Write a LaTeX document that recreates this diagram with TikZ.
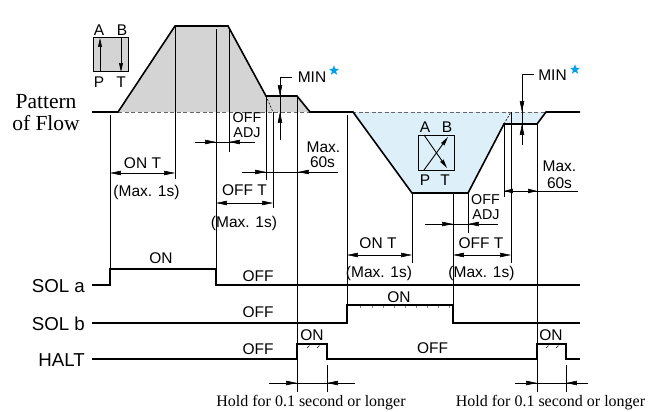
\documentclass[tikz,border=0pt]{standalone}
\usepackage{fontspec}
\setmainfont{Liberation Serif}
\setsansfont{Liberation Sans}
\usetikzlibrary{arrows.meta,shapes.geometric}
\definecolor{grayfill}{RGB}{212,212,212}
\definecolor{bluefill}{RGB}{221,240,250}
\definecolor{starblue}{RGB}{0,160,233}
\begin{document}
\begin{tikzpicture}[x=1pt,y=-1pt,
  outline/.style={line width=1.6pt, line join=miter},
  sig/.style={line width=1.4pt, line join=miter},
  thinl/.style={line width=0.6pt},
  dashbase/.style={line width=0.6pt, black!60, dash pattern=on 4pt off 2.5pt},
  tipr/.style={-{Stealth[length=11pt,width=4.5pt,inset=0.5pt]}},
  dbl/.style={{Stealth[length=11pt,width=4.5pt,inset=0.5pt]}-{Stealth[length=11pt,width=4.5pt,inset=0.5pt]}},
  vtip/.style={-{Stealth[length=9pt,width=4pt,inset=0.5pt]}},
  lab/.style={inner sep=0pt, font=\sffamily\fontsize{15.5}{15}\selectfont, text height=11.1pt, text depth=0pt},
  adj/.style={inner sep=0pt, font=\sffamily\fontsize{14.3}{14}\selectfont, text height=10.2pt, text depth=0pt},
  vlab/.style={inner sep=0pt, font=\sffamily\fontsize{15.5}{15}\selectfont, text height=11.1pt, text depth=0pt},
  siglab/.style={inner sep=0pt, font=\sffamily\fontsize{18.7}{19}\selectfont, text height=13.4pt, text depth=0pt, anchor=east},
  serif/.style={inner sep=0pt, anchor=base, font=\rmfamily\fontsize{21.5}{22}\selectfont},
  hold/.style={inner sep=0pt, anchor=base, font=\rmfamily\fontsize{16}{16}\selectfont},
  starmark/.style={star, star points=5, star point ratio=2.4, fill=starblue, draw=none, minimum size=10.5pt, inner sep=0pt}
]
\useasboundingbox (0,0) rectangle (662,412);

% fills
\fill[grayfill] (118,112) -- (175,26) -- (228,26) -- (266,96) -- (297,96) -- (310,112) -- cycle;
\fill[bluefill] (353,112) -- (412,193) -- (468,193) -- (504,124) -- (537,124) -- (546,112) -- cycle;

% dashed baseline and extensions
\draw[dashbase] (118,112) -- (546,112);
\draw[thinl, dash pattern=on 2pt off 1.5pt] (266,96) -- (273,112);
\draw[thinl, dash pattern=on 2pt off 1.5pt] (504,124) -- (511,112);

% thin vertical lines
\draw[thinl] (110,115) -- (110,269);
\draw[thinl] (175,26) -- (175,179);
\draw[thinl] (216,29) -- (216,269);
\draw[thinl] (229,29) -- (229,152);
\draw[thinl] (266,96) -- (266,180);
\draw[thinl] (273,112) -- (273,208);
\draw[thinl] (297,96) -- (297,392);
\draw[thinl] (347,115) -- (347,305);
\draw[thinl] (412,193) -- (412,263);
\draw[thinl] (453,193) -- (453,305);
\draw[thinl] (468,193) -- (468,233);
\draw[thinl] (504,124) -- (504,197);
\draw[thinl] (511,112) -- (511,263);
\draw[thinl] (537,124) -- (537,392);
\draw[thinl] (327,365) -- (327,392);
\draw[thinl] (566,365) -- (566,392);

% flow outline
\draw[outline] (92,112) -- (118,112) -- (175,26) -- (228,26) -- (266,96) -- (297,96) -- (310,112)
  -- (353,112) -- (412,193) -- (468,193) -- (504,124) -- (537,124) -- (546,112) -- (580,112);

% valve 1
\draw[line width=1pt, fill=grayfill] (93,38) rectangle (128,72);
\draw[line width=0.9pt, vtip] (100,72) -- (100,38);
\draw[line width=0.9pt, vtip] (121,38) -- (121,72);
\node[vlab] (va) at (99,30) {A};
\node[vlab] (vb) at (122,30) {B};
\node[vlab] (vp) at (99,82) {P};
\node[vlab] (vt) at (121,82) {T};

% valve 2
\draw[line width=1pt, fill=bluefill] (418,135) rectangle (454,170);
\draw[line width=0.9pt, vtip] (424,170) -- (448,137);
\draw[line width=0.9pt, vtip] (424,135) -- (447,168);
\node[vlab] (va2) at (425,127) {A};
\node[vlab] (vb2) at (447,127) {B};
\node[vlab] (vp2) at (425,180) {P};
\node[vlab] (vt2) at (445,180) {T};

% Pattern of Flow
\node[serif] (pat) at (46,108.5) {Pattern};
\node[serif] (flow) at (46,130) {of Flow};

% ON T 1
\draw[thinl, dbl] (110,173) -- (175,173);
\node[lab] (ont1) at (142.5,163) {ON T};
\node[lab] (max1) at (146.5,191) {(Max. 1s)};

% OFF ADJ 1
\draw[thinl] (195,142) -- (255,142);
\draw[thinl, tipr] (195,142) -- (216,142);
\draw[thinl, tipr] (255,142) -- (229,142);
\node[adj] (off1) at (247,117) {OFF};
\node[adj] (adj1) at (247,132) {ADJ};

% OFF T 1
\draw[thinl, dbl] (216,203) -- (273,203);
\node[lab] (offt1) at (244.5,190) {OFF T};
\node[lab] (max2) at (244,222) {(Max. 1s)};

% MIN 1
\draw[thinl] (292,77) -- (280,77) -- (280,140);
\draw[thinl, tipr] (280,77) -- (280,96);
\draw[thinl, tipr] (280,140) -- (280,112);
\node[lab] (min1) at (312,77) {MIN};
\node[starmark] (star1) at (334,70.5) {};

% Max 60s 1
\draw[thinl] (242,172) -- (338,172);
\draw[thinl, tipr] (242,172) -- (266,172);
\draw[thinl, tipr] (338,172) -- (298,172);
\node[lab] (mx1) at (323.5,147) {Max.};
\node[lab] (s1) at (322.5,162) {60s};

% ON T 2
\draw[thinl, dbl] (347,255) -- (412,255);
\node[lab] (ont2) at (378,243) {ON T};
\node[lab] (max3) at (379,272) {(Max. 1s)};

% OFF ADJ 2
\draw[thinl] (425,224) -- (498,224);
\draw[thinl, tipr] (425,224) -- (453,224);
\draw[thinl, tipr] (498,224) -- (468,224);
\node[adj] (off2) at (485.5,199) {OFF};
\node[adj] (adj2) at (486,214) {ADJ};

% OFF T 2
\draw[thinl, dbl] (453,255) -- (511,255);
\node[lab] (offt2) at (481,243) {OFF T};
\node[lab] (max4) at (481.5,272) {(Max. 1s)};

% MIN 2
\draw[thinl] (534,74) -- (522,74) -- (522,145);
\draw[thinl, tipr] (522,74) -- (522,112);
\draw[thinl, tipr] (522,145) -- (522,124);
\node[lab] (min2) at (552.5,75) {MIN};
\node[starmark] (star2) at (575,69.5) {};

% Max 60s 2
\draw[thinl] (504,191) -- (578,191);
\draw[thinl, {Stealth[length=9pt,width=4.5pt,inset=0.5pt]}-{Stealth[length=9pt,width=4.5pt,inset=0.5pt]}] (504,191) -- (537,191);
\node[lab] (mx2) at (559.5,166) {Max.};
\node[lab] (s2) at (559.5,183) {60s};

% signal lines
\draw[sig] (92,285) -- (110,285) -- (110,269) -- (216,269) -- (216,285) -- (580,285);
\draw[sig] (92,323) -- (347,323) -- (347,305) -- (453,305) -- (453,323) -- (580,323);
\draw[sig] (92,359) -- (297,359) -- (297,344) -- (327,344) -- (327,359) -- (537,359) -- (537,344) -- (566,344) -- (566,359) -- (580,359);

% small marks in pulses
\foreach \x in {360,372,383,394,405,416,427,438,449} \draw[line width=0.4pt, gray] (\x,306) -- (\x,308);
\foreach \x in {307,317} \draw[line width=0.5pt] (\x,348) -- (\x+2.5,345.5);
\foreach \x in {546,556} \draw[line width=0.5pt] (\x,348) -- (\x+2.5,345.5);

\node[siglab] (sola) at (85,286) {SOL a};
\node[siglab] (solb) at (85,323.5) {SOL b};
\node[siglab] (halt) at (85,360) {HALT};

\node[lab] (on1) at (161,258) {ON};
\node[lab] (offa) at (258,276) {OFF};
\node[lab] (on2) at (399,297) {ON};
\node[lab] (offb) at (258,312) {OFF};
\node[lab] (on3) at (312,335) {ON};
\node[lab] (offh1) at (258,349) {OFF};
\node[lab] (on4) at (551,335) {ON};
\node[lab] (offh2) at (432.5,348) {OFF};

% hold arrows
\draw[thinl] (269,383) -- (355,383);
\draw[thinl, tipr] (269,383) -- (297,383);
\draw[thinl, tipr] (355,383) -- (327,383);
\draw[thinl] (515,383) -- (588,383);
\draw[thinl, tipr] (515,383) -- (537,383);
\draw[thinl, tipr] (588,383) -- (566,383);
\node[hold] (hold1) at (311,406.5) {Hold for 0.1 second or longer};
\node[hold] (hold2) at (550.5,406.5) {Hold for 0.1 second or longer};
\end{tikzpicture}
\end{document}
